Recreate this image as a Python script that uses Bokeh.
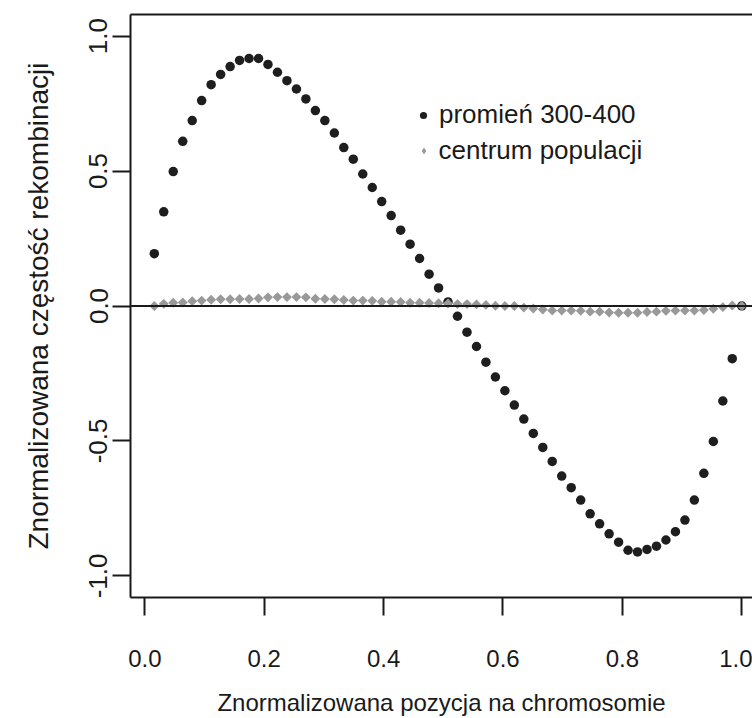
from bokeh.plotting import figure
from bokeh.models import (Range1d, LinearAxis, FixedTicker, PrintfTickFormatter,
                          Span, Legend, LegendItem)
from bokeh.embed import file_html
from bokeh.resources import INLINE
import math

# ---- data ----
x_positions = [0.0159, 0.0317, 0.0476, 0.0635, 0.0794, 0.0952, 0.1111, 0.1270, 0.1429,
               0.1587, 0.1746, 0.1905, 0.2063, 0.2222, 0.2381, 0.2540, 0.2698, 0.2857,
               0.3016, 0.3175, 0.3333, 0.3492, 0.3651, 0.3810, 0.3968, 0.4127, 0.4286,
               0.4444, 0.4603, 0.4762, 0.4921, 0.5079, 0.5238, 0.5397, 0.5556, 0.5714,
               0.5873, 0.6032, 0.6190, 0.6349, 0.6508, 0.6667, 0.6825, 0.6984, 0.7143,
               0.7302, 0.7460, 0.7619, 0.7778, 0.7937, 0.8095, 0.8254, 0.8413, 0.8571,
               0.8730, 0.8889, 0.9048, 0.9206, 0.9365, 0.9524, 0.9683, 0.9841, 1.0000]

radius_300_400 = [0.194, 0.349, 0.498, 0.610, 0.687, 0.761, 0.820, 0.858, 0.887,
                  0.910, 0.917, 0.917, 0.895, 0.866, 0.835, 0.804, 0.767, 0.724,
                  0.687, 0.641, 0.587, 0.544, 0.489, 0.439, 0.387, 0.335, 0.281,
                  0.229, 0.176, 0.118, 0.067, 0.015, -0.038, -0.097, -0.150, -0.208,
                  -0.263, -0.314, -0.367, -0.419, -0.472, -0.524, -0.576, -0.630, -0.673,
                  -0.719, -0.770, -0.807, -0.844, -0.875, -0.905, -0.911, -0.902, -0.890,
                  -0.867, -0.836, -0.793, -0.719, -0.620, -0.502, -0.352, -0.195, 0.000]

population_center = [0.000, 0.008, 0.012, 0.013, 0.018, 0.020, 0.023, 0.025, 0.025,
                     0.026, 0.026, 0.028, 0.032, 0.033, 0.033, 0.033, 0.032, 0.027,
                     0.026, 0.025, 0.022, 0.020, 0.020, 0.019, 0.016, 0.016, 0.015,
                     0.012, 0.012, 0.011, 0.010, 0.009, 0.007, 0.007, 0.006, 0.004,
                     0.001, 0.000, 0.000, -0.006, -0.009, -0.013, -0.017, -0.017, -0.017,
                     -0.018, -0.021, -0.021, -0.024, -0.025, -0.025, -0.025, -0.022, -0.021,
                     -0.018, -0.017, -0.017, -0.017, -0.015, -0.010, -0.004, 0.002, 0.000]

series_names = ["promień 300-400", "centrum populacji"]
x_ticks = [0.0, 0.2, 0.4, 0.6, 0.8, 1.0]
y_ticks = [-1.0, -0.5, 0.0, 0.5, 1.0]
x_title = "Znormalizowana pozycja na chromosomie"
y_title = "Znormalizowana częstość rekombinacji"

INK = "#1a1a1a"
DOT = "#1e1e1e"
GRAY = "#999999"
FONT = "Liberation Sans"

p = figure(width=752, height=718,
           x_range=Range1d(-0.024, 1.018), y_range=Range1d(-1.08, 1.08),
           output_backend="svg", toolbar_location=None,
           min_border_left=130, min_border_right=0,
           min_border_top=14, min_border_bottom=121)
p.outline_line_color = None
p.grid.visible = False
p.background_fill_color = "white"
p.border_fill_color = "white"

for ax in (p.xaxis[0], p.yaxis[0]):
    ax.axis_line_color = INK
    ax.axis_line_width = 2
    ax.major_tick_line_color = INK
    ax.major_tick_line_width = 2
    ax.major_tick_out = 18
    ax.major_tick_in = 0
    ax.minor_tick_line_color = None
    ax.major_label_text_font = FONT
    ax.major_label_text_color = INK
    ax.axis_label_text_font = FONT
    ax.axis_label_text_font_style = "normal"
    ax.axis_label_text_color = INK
    ax.formatter = PrintfTickFormatter(format="%.1f")

p.xaxis.ticker = FixedTicker(ticks=x_ticks)
p.yaxis.ticker = FixedTicker(ticks=y_ticks)
p.xaxis.axis_label = x_title
p.yaxis.axis_label = y_title
p.xaxis.major_label_text_font_size = "24px"
p.xaxis.axis_label_text_font_size = "24px"
p.yaxis.major_label_text_font_size = "26px"
p.yaxis.axis_label_text_font_size = "28px"
p.xaxis.major_label_standoff = 34
p.xaxis.axis_label_standoff = 19
p.yaxis.major_label_orientation = "vertical"
p.yaxis.major_label_standoff = 5
p.yaxis.axis_label_standoff = 33

top = LinearAxis(ticker=FixedTicker(ticks=[]), major_label_text_font_size="0px",
                 axis_line_color=INK, axis_line_width=2, major_tick_out=0,
                 major_tick_in=0, minor_tick_out=0, minor_tick_in=0,
                 major_label_standoff=0, axis_label_standoff=0)
p.add_layout(top, "above")

r_black = p.scatter(x_positions, radius_300_400, marker="circle", size=9.5,
                    fill_color=DOT, line_color=None)
r_leg = p.scatter(x_positions, population_center, marker="diamond", size=8.5,
                  fill_color=GRAY, line_color=None)
r_gray = p.scatter(x_positions, population_center, marker="square", size=7,
                   angle=math.pi / 4, fill_color=GRAY, line_color=None)

p.add_layout(Span(location=0, dimension="width", line_color=INK, line_width=2))

def make_legend(label, renderer, loc, glyph):
    return Legend(items=[LegendItem(label=label, renderers=[renderer])],
                  location=loc, glyph_width=glyph, glyph_height=glyph,
                  label_standoff=7, label_height=10, padding=0, margin=0, spacing=0,
                  border_line_color=None, background_fill_alpha=0,
                  label_text_font=FONT, label_text_font_size="26px",
                  label_text_color=INK, label_text_baseline="middle")

p.add_layout(make_legend(series_names[0], r_black, (284, 467), 18))
p.add_layout(make_legend(series_names[1], r_leg, (284.5, 431), 17))

open("out.html", "w").write(file_html(p, INLINE))
